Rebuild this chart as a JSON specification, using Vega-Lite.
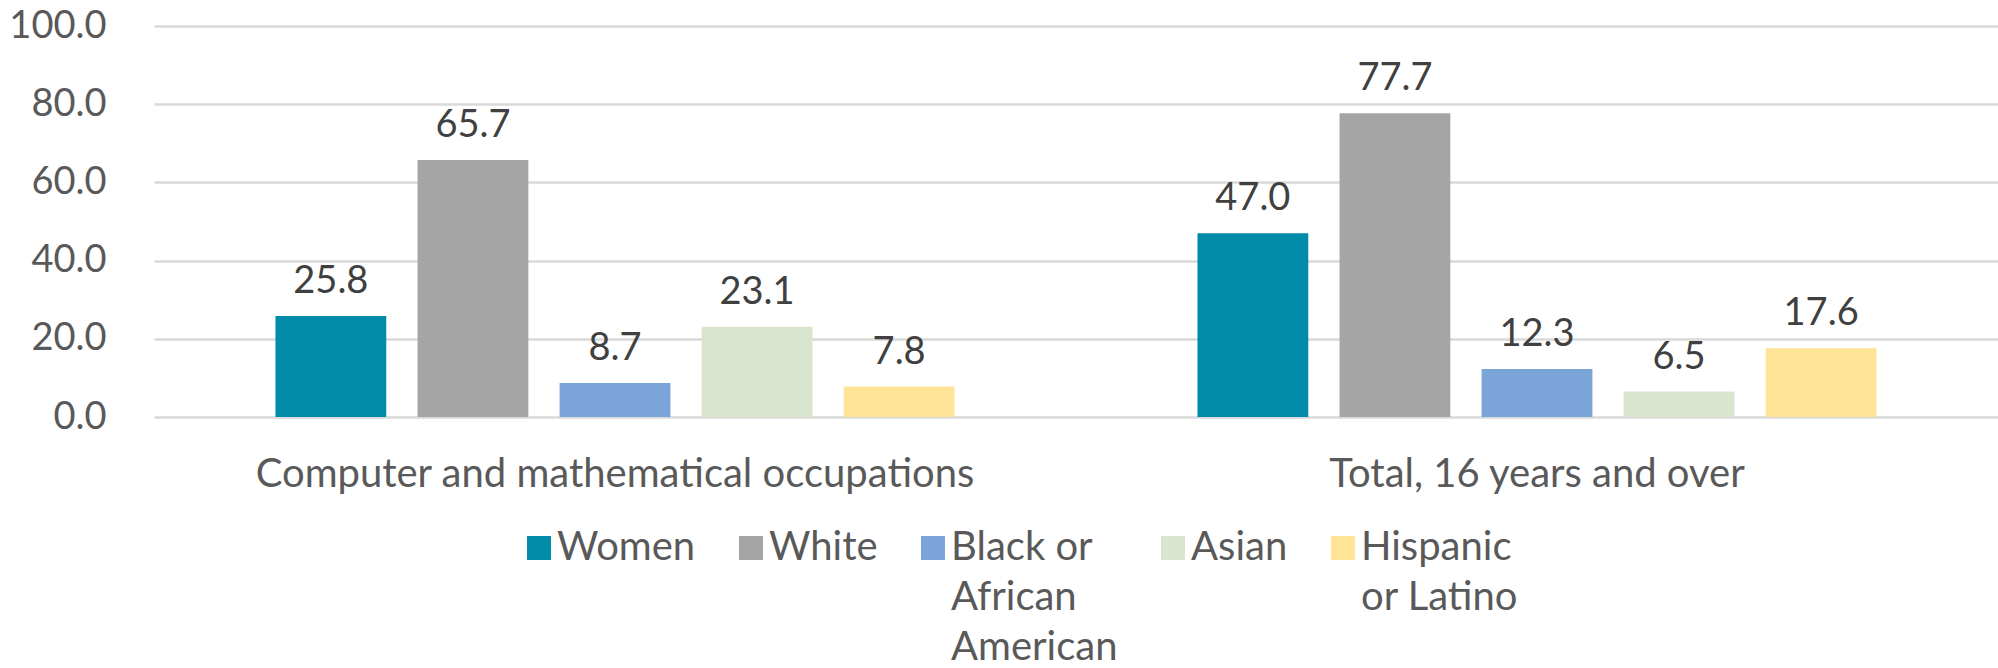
{
  "$schema": "https://vega.github.io/schema/vega-lite/v6.json",
  "width": 1844,
  "height": 391,
  "padding": {"left": 154, "top": 26, "right": 0, "bottom": 251},
  "autosize": {"type": "none"},
  "background": "white",
  "config": {
    "view": {"stroke": null},
    "font": "Lato",
    "axis": {"labelFont": "Lato", "labelColor": "#595959", "labelFontSize": 38}
  },
  "data": {
    "values": [
      {"category": "Computer and mathematical occupations", "group": "Women", "value": 25.8},
      {"category": "Computer and mathematical occupations", "group": "White", "value": 65.7},
      {"category": "Computer and mathematical occupations", "group": "Black or African American", "value": 8.7},
      {"category": "Computer and mathematical occupations", "group": "Asian", "value": 23.1},
      {"category": "Computer and mathematical occupations", "group": "Hispanic or Latino", "value": 7.8},
      {"category": "Total, 16 years and over", "group": "Women", "value": 47.0},
      {"category": "Total, 16 years and over", "group": "White", "value": 77.7},
      {"category": "Total, 16 years and over", "group": "Black or African American", "value": 12.3},
      {"category": "Total, 16 years and over", "group": "Asian", "value": 6.5},
      {"category": "Total, 16 years and over", "group": "Hispanic or Latino", "value": 17.6}
    ]
  },
  "encoding": {
    "x": {
      "field": "category", "type": "nominal", "sort": null,
      "scale": {"paddingInner": 0, "paddingOuter": 0},
      "axis": {"title": null, "labelAngle": 0, "ticks": false, "domain": false, "labelPadding": 37, "labelLimit": 1000, "labelOverlap": false, "labelFontSize": 40}
    },
    "xOffset": {
      "field": "group", "type": "nominal",
      "sort": ["Women", "White", "Black or African American", "Asian", "Hispanic or Latino"],
      "scale": {"paddingInner": 0.22, "paddingOuter": 0.855}
    },
    "y": {
      "field": "value", "type": "quantitative",
      "scale": {"domain": [0, 100]},
      "axis": {
        "title": null, "values": [0, 20, 40, 60, 80, 100], "format": ".1f",
        "ticks": false, "domain": false, "labelPadding": 48, "labelOverlap": false,
        "labelBound": false, "labelFlush": false,
        "gridColor": "#D9D9D9", "gridWidth": 2.5
      }
    }
  },
  "layer": [
    {
      "mark": {"type": "bar"},
      "encoding": {
        "color": {
          "field": "group", "type": "nominal",
          "sort": ["Women", "White", "Black or African American", "Asian", "Hispanic or Latino"],
          "scale": {
            "domain": ["Women", "White", "Black or African American", "Asian", "Hispanic or Latino"],
            "range": ["#008BA8", "#A5A5A5", "#7BA4D8", "#DAE5CD", "#FFE497"]
          },
          "legend": {
            "title": null,
            "orient": "none",
            "direction": "horizontal",
            "legendX": 365,
            "legendY": 514,
            "symbolType": "M-1,-2H1V0H-1Z",
            "symbolSize": 576,
            "symbolStrokeWidth": 0,
            "symbolOpacity": 1,
            "labelFont": "Lato",
            "labelFontSize": 40,
            "labelColor": "#595959",
            "labelOffset": -2,
            "labelLimit": 400,
            "labelBaseline": "alphabetic",
            "columnPadding": 35,
            "labelExpr": "datum.label == 'Black or African American' ? ['Black or', 'African', 'American'] : datum.label == 'Hispanic or Latino' ? ['Hispanic', 'or Latino', ''] : [datum.label, '', '']",
            "encoding": {"labels": {"lineHeight": {"value": 50}}}
          }
        }
      }
    },
    {
      "mark": {"type": "text", "baseline": "alphabetic", "dy": -23, "font": "Lato", "fontSize": 38, "color": "#404040"},
      "encoding": {
        "text": {"field": "value", "type": "quantitative", "format": ".1f"}
      }
    }
  ]
}
